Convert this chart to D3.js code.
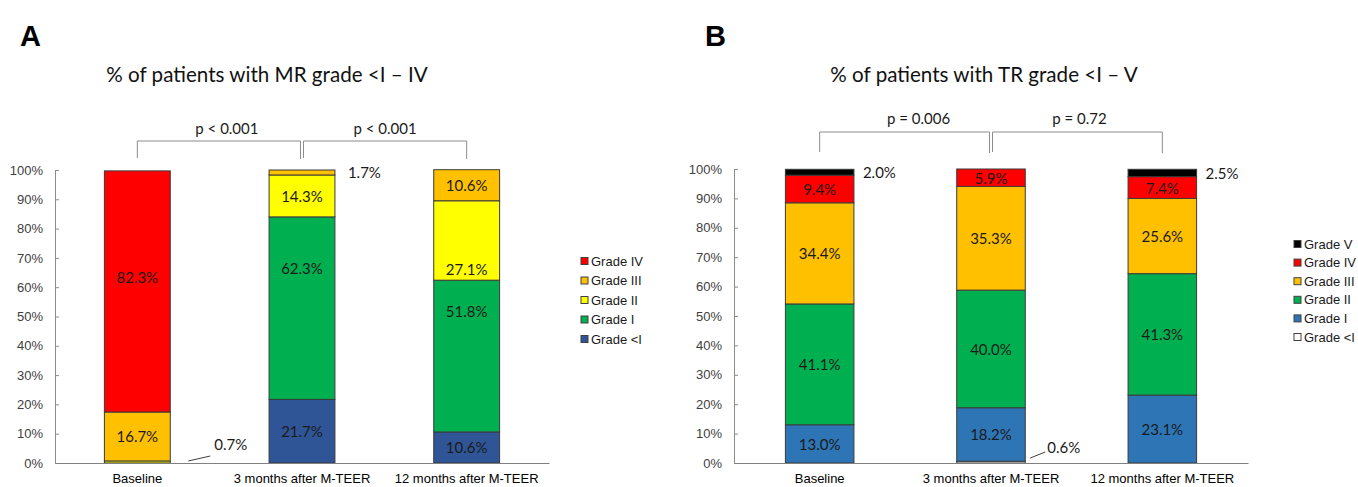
<!DOCTYPE html>
<html>
<head>
<meta charset="utf-8">
<script src="https://cdn.jsdelivr.net/npm/d3@7"></script>
<style>
  html, body { margin: 0; padding: 0; background: #ffffff; }
  svg { display: block; }
</style>
</head>
<body>
<svg id="chart" width="1358" height="487"></svg>
<script>
// ---- Data -------------------------------------------------------------
const categories = ["Baseline", "3 months after M-TEER", "12 months after M-TEER"];
const yTicks = [0, 10, 20, 30, 40, 50, 60, 70, 80, 90, 100];

// Panel A: mitral regurgitation grade distribution (%)
const mrGrades = ["Grade <I", "Grade I", "Grade II", "Grade III", "Grade IV"];
const mrGradeBelowI = [0, 21.7, 10.6];
const mrGradeI = [0, 62.3, 51.8];
const mrGradeII = [0.7, 14.3, 27.1];
const mrGradeIII = [16.7, 1.7, 10.6];
const mrGradeIV = [82.3, 0, 0];
const mrPValues = ["p < 0.001", "p < 0.001"];

// Panel B: tricuspid regurgitation grade distribution (%)
const trGrades = ["Grade <I", "Grade I", "Grade II", "Grade III", "Grade IV", "Grade V"];
const trGradeBelowI = [0, 0.6, 0];
const trGradeI = [13.0, 18.2, 23.1];
const trGradeII = [41.1, 40.0, 41.3];
const trGradeIII = [34.4, 35.3, 25.6];
const trGradeIV = [9.4, 5.9, 7.4];
const trGradeV = [2.0, 0, 2.5];
const trPValues = ["p = 0.006", "p = 0.72"];

// ---- Styling / layout -------------------------------------------------
const mrColors = ["#2F5597", "#00B050", "#FFFF00", "#FFC000", "#FF0000"];
const trColors = ["#FFFFFF", "#2E75B6", "#00B050", "#FFC000", "#FF0000", "#000000"];

const labelFont = "Lato, 'Open Sans', sans-serif";
const axisFont = "'Liberation Sans', Arial, sans-serif";

const svg = d3.select("#chart");

function drawPanel(cfg) {
  const rows = categories.map((c, i) => {
    const r = { category: c };
    cfg.grades.forEach((g, k) => { r[g] = cfg.series[k][i]; });
    return r;
  });

  const x = d3.scaleBand()
    .domain(categories)
    .range([cfg.x0, cfg.x1])
    .paddingInner(0.6)
    .paddingOuter(0.3);

  const y = d3.scaleLinear()
    .domain([0, 100])
    .range([cfg.yBottom, cfg.yTop]);

  const color = d3.scaleOrdinal().domain(cfg.grades).range(cfg.colors);

  const stacked = d3.stack().keys(cfg.grades)(rows);

  const g = svg.append("g");

  // Panel letter and title
  g.append("text")
    .attr("x", cfg.letterX).attr("y", cfg.letterY)
    .attr("font-family", axisFont).attr("font-weight", "bold")
    .attr("font-size", 29).attr("fill", "#000")
    .text(cfg.letter);

  g.append("text")
    .attr("x", cfg.titleX).attr("y", cfg.titleY)
    .attr("text-anchor", "middle").attr("dominant-baseline", "middle")
    .attr("font-family", labelFont).attr("font-size", 20.6).attr("fill", "#111")
    .text(cfg.title);

  // Y axis
  const yAxis = g.append("g")
    .attr("transform", `translate(${cfg.x0},0)`)
    .call(d3.axisLeft(y).tickValues(yTicks).tickFormat(d => d + "%").tickSize(-4).tickPadding(12));
  yAxis.select(".domain").attr("stroke", "#8c8c8c");
  yAxis.selectAll(".tick line").attr("stroke", "#8c8c8c");
  yAxis.selectAll(".tick text")
    .attr("font-family", axisFont).attr("font-size", 13).attr("fill", "#404040");

  // Stacked bars
  g.append("g").selectAll("g")
    .data(stacked)
    .join("g")
      .attr("fill", d => color(d.key))
    .selectAll("rect")
    .data(d => d.filter(s => s[1] - s[0] > 0))
    .join("rect")
      .attr("x", d => x(d.data.category))
      .attr("width", x.bandwidth())
      .attr("y", d => y(d[1]))
      .attr("height", d => y(d[0]) - y(d[1]))
      .attr("stroke", "#3a3a3a")
      .attr("stroke-width", 1);

  // X axis (drawn over bar bottoms)
  const xAxis = g.append("g")
    .attr("transform", `translate(0,${cfg.yBottom})`)
    .call(d3.axisBottom(x).tickSize(0).tickPadding(11).tickSizeOuter(0));
  xAxis.select(".domain").attr("stroke", "#808080").attr("stroke-width", 1.2);
  xAxis.selectAll(".tick text")
    .attr("font-family", axisFont).attr("font-size", 13).attr("fill", "#000");

  // Value labels
  const labels = g.append("g")
    .attr("font-family", labelFont).attr("font-size", 15).attr("fill", "#1a1a1a");

  stacked.forEach(layer => {
    layer.forEach((s, i) => {
      const v = s[1] - s[0];
      if (v <= 0) return;
      const text = v.toFixed(1) + "%";
      const xl = x(s.data.category);
      const xr = xl + x.bandwidth();
      if (v >= 5) {
        const nudge = (cfg.nudges[layer.key] || [0, 0, 0])[i];
        labels.append("text")
          .attr("x", xl + x.bandwidth() / 2)
          .attr("y", y((s[0] + s[1]) / 2) + nudge)
          .attr("text-anchor", "middle").attr("dominant-baseline", "central")
          .text(text);
      } else if (s[1] > 50) {
        labels.append("text")
          .attr("x", xr + cfg.sideDx)
          .attr("y", y((s[0] + s[1]) / 2))
          .attr("dominant-baseline", "central")
          .text(text);
      } else {
        const L = cfg.leader;
        const yb = y(s[0]);
        labels.append("line")
          .attr("x1", xr + L[0]).attr("y1", yb + L[1])
          .attr("x2", xr + L[2]).attr("y2", yb + L[3])
          .attr("stroke", "#404040").attr("stroke-width", 1);
        labels.append("text")
          .attr("x", xr + L[4]).attr("y", yb + L[5])
          .attr("dominant-baseline", "central")
          .text(text);
      }
    });
  });

  // Significance brackets
  const cx = categories.map(c => x(c) + x.bandwidth() / 2);
  const pairs = [[cx[0], cx[1] - 1.5], [cx[1] + 1.5, cx[2]]];
  const br = g.append("g").attr("fill", "none").attr("stroke", "#8c8c8c").attr("stroke-width", 1);
  pairs.forEach((p, k) => {
    br.append("path")
      .attr("d", `M${p[0]},${cfg.bracketEnd}V${cfg.bracketY}H${p[1]}V${cfg.bracketEnd + 1}`);
    g.append("text")
      .attr("x", (p[0] + p[1]) / 2 + cfg.pShift[k])
      .attr("y", cfg.pLabelY)
      .attr("text-anchor", "middle").attr("dominant-baseline", "central")
      .attr("font-family", labelFont).attr("font-size", 15).attr("fill", "#1a1a1a")
      .text(cfg.pValues[k]);
  });

  // Legend (highest grade on top)
  const legendItems = cfg.grades.slice().reverse();
  const lg = g.append("g");
  legendItems.forEach((name, k) => {
    const yy = cfg.legendY + k * cfg.legendStep;
    lg.append("rect")
      .attr("x", cfg.legendX).attr("y", yy - 3.5)
      .attr("width", 7).attr("height", 7)
      .attr("fill", color(name))
      .attr("stroke", "#404040").attr("stroke-width", 1);
    lg.append("text")
      .attr("x", cfg.legendX + 10).attr("y", yy)
      .attr("dominant-baseline", "central")
      .attr("font-family", axisFont).attr("font-size", 13).attr("fill", "#1a1a1a")
      .text(name);
  });
}

drawPanel({
  letter: "A", letterX: 20, letterY: 46,
  title: "% of patients with MR grade <I \u2013 IV", titleX: 267, titleY: 77,
  grades: mrGrades, colors: mrColors,
  series: [mrGradeBelowI, mrGradeI, mrGradeII, mrGradeIII, mrGradeIV],
  pValues: mrPValues,
  x0: 55, x1: 549, yTop: 170, yBottom: 463,
  bracketY: 141, bracketEnd: 158, pLabelY: 128, pShift: [8, 0],
  legendX: 581, legendY: 261, legendStep: 19.5,
  sideDx: 13, leader: [18, -2, 40, -7, 44, -19],
  nudges: { "Grade IV": [-14, 0, 0], "Grade I": [0, -40, -45], "Grade II": [0, 0, 29] }
});

drawPanel({
  letter: "B", letterX: 705, letterY: 46,
  title: "% of patients with TR grade <I \u2013 V", titleX: 984, titleY: 77,
  grades: trGrades, colors: trColors,
  series: [trGradeBelowI, trGradeI, trGradeII, trGradeIII, trGradeIV, trGradeV],
  pValues: trPValues,
  x0: 734, x1: 1248, yTop: 169, yBottom: 463,
  bracketY: 132, bracketEnd: 152, pLabelY: 118, pShift: [14, 2],
  legendX: 1294, legendY: 244, legendStep: 18.6,
  sideDx: 9, leader: [5, -5, 20, -11, 22, -16],
  nudges: {}
});
</script>
</body>
</html>
